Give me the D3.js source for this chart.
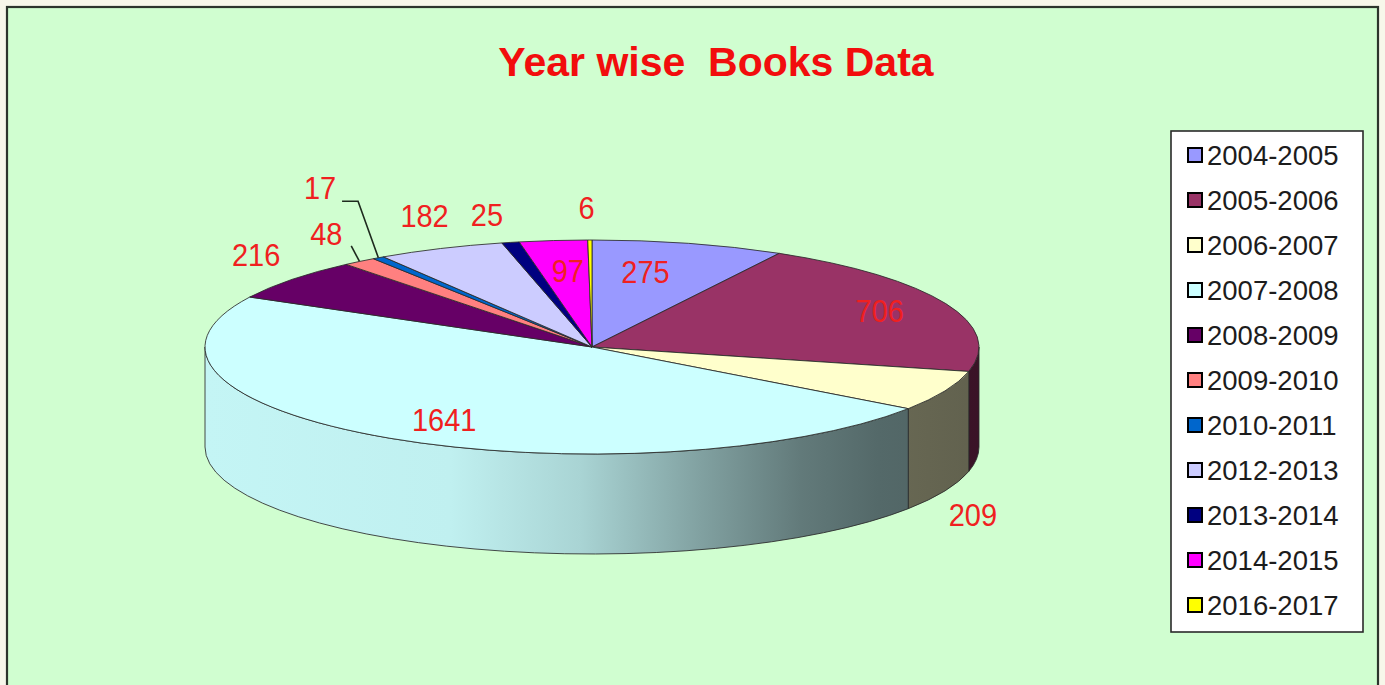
<!DOCTYPE html>
<html>
<head>
<meta charset="utf-8">
<script src="https://cdn.jsdelivr.net/npm/d3@7"></script>
<style>
  html, body { margin: 0; padding: 0; background: #f7f7ea; overflow: hidden; }
  svg { display: block; }
</style>
</head>
<body>
<svg id="chart" width="1385" height="685"></svg>
<script>
// Books added per academic year
const categories = ["2004-2005", "2005-2006", "2006-2007", "2007-2008", "2008-2009", "2009-2010",
                    "2010-2011", "2012-2013", "2013-2014", "2014-2015", "2016-2017"];
const books = [275, 706, 209, 1641, 216, 48, 17, 182, 25, 97, 6];
const sliceColors = ["#9999ff", "#993366", "#ffffcc", "#ccffff", "#660066", "#ff8080",
                     "#0066cc", "#ccccff", "#000080", "#ff00ff", "#ffff00"];
const titleText = "Year wise  Books Data";

// Where each value label sits: radius factor on the ellipse, small angle nudge (deg),
// "base" = measured on the bottom rim, optional leader offsets from the label centre.
const labelPlacement = [
  { r: 0.72, da: -3.4 },
  { r: 0.82, da: -1.0 },
  { r: 1.167, da: 8.3, base: true },
  { r: 0.78, da: -2.2 },
  { r: 1.227, da: 5.8 },
  { r: 1.26, da: 3.9, leader: [[25, 12]] },
  { r: 1.65, da: 8.3, leader: [[22, 14], [38, 14]] },
  { r: 1.30, da: 3.6 },
  { r: 1.27, da: -0.2 },
  { r: 0.713, da: 0.7 },
  { r: 1.30, da: -0.3 }
];

const W = 1385, H = 685;
const cx = 592, cy = 347, rx = 387, ry = 107, depth = 100;
const FONT = "'Liberation Sans', Arial, Helvetica, sans-serif";

const svg = d3.select("#chart");
const defs = svg.append("defs");
const color = d3.scaleOrdinal(categories, sliceColors);

// chart area
svg.append("rect")
  .attr("x", 7).attr("y", 7).attr("width", 1371).attr("height", 700)
  .attr("fill", "#d0fed0").attr("stroke", "#2c352c").attr("stroke-width", 2.2);

// title
svg.append("text")
  .attr("x", 716).attr("y", 76)
  .attr("text-anchor", "middle")
  .style("white-space", "pre")
  .attr("font-family", FONT).attr("font-weight", "bold").attr("font-size", 41)
  .attr("fill", "#f20d0d")
  .text(titleText);

const pie = d3.pie().sort(null).value(d => d.value);
const arcsData = pie(categories.map((c, i) => ({ cat: c, value: books[i], i })));

// projection of a polar point (angle clockwise from 12 o'clock) onto the tilted disc
const P = (a, k = 1, z = 0) => [cx + rx * k * Math.sin(a), cy - ry * k * Math.cos(a) + z];

// side shading: light on the left rim, darkening toward the right
const shade = [[0, 0.96], [0.317, 0.94], [0.485, 0.83], [0.64, 0.63], [0.77, 0.48], [0.87, 0.41], [1, 0.38]];

const walls = svg.append("g");
arcsData.forEach(d => {
  const s = Math.max(d.startAngle, Math.PI / 2);
  const e = Math.min(d.endAngle, 3 * Math.PI / 2);
  if (s >= e) return;
  const id = "wall" + d.data.i;
  const base = d3.rgb(color(d.data.cat));
  const g = defs.append("linearGradient").attr("id", id)
    .attr("gradientUnits", "userSpaceOnUse")
    .attr("x1", cx - rx).attr("x2", cx + rx).attr("y1", 0).attr("y2", 0);
  shade.forEach(([o, f]) => {
    g.append("stop").attr("offset", o)
      .attr("stop-color", d3.rgb(base.r * f, base.g * f, base.b * f).formatHex());
  });
  const t0 = P(s), t1 = P(e), b1 = P(e, 1, depth), b0 = P(s, 1, depth);
  const path = `M${t0}A${rx},${ry} 0 0 1 ${t1}L${b1}A${rx},${ry} 0 0 0 ${b0}Z`;
  walls.append("path")
    .attr("d", path)
    .attr("fill", `url(#${id})`)
    .attr("stroke", "#2a2a2a").attr("stroke-width", 1).attr("stroke-opacity", 0.85)
    .attr("stroke-linejoin", "round");
});

// top faces
const arc = d3.arc().innerRadius(0).outerRadius(rx);
svg.append("g")
  .attr("transform", `translate(${cx},${cy}) scale(1,${ry / rx})`)
  .selectAll("path")
  .data(arcsData)
  .join("path")
  .attr("d", arc)
  .attr("fill", d => color(d.data.cat))
  .attr("stroke", "#2a2a2a").attr("stroke-width", 1).attr("stroke-opacity", 0.85)
  .attr("stroke-linejoin", "round")
  .attr("vector-effect", "non-scaling-stroke");

// value labels and leaders
const labels = svg.append("g");
arcsData.forEach(d => {
  const lp = labelPlacement[d.data.i];
  const mid = (d.startAngle + d.endAngle) / 2;
  const a = mid + lp.da * Math.PI / 180;
  const [lx, ly] = P(a, lp.r, lp.base ? depth : 0);
  if (lp.leader) {
    const pts = lp.leader.map(([ox, oy]) => [lx + ox, ly + oy]);
    pts.push(P(mid, 1));
    labels.append("path")
      .attr("d", d3.line()(pts))
      .attr("fill", "none").attr("stroke", "#1e2a1e").attr("stroke-width", 1.6);
  }
  labels.append("text")
    .attr("transform", `translate(${lx},${ly}) scale(1,1.1)`)
    .attr("text-anchor", "middle").attr("dy", "0.36em")
    .attr("font-family", FONT).attr("font-size", 29)
    .attr("fill", "#f02020")
    .text(d.data.value);
});

// legend
const legend = svg.append("g");
legend.append("rect")
  .attr("x", 1171).attr("y", 131).attr("width", 192).attr("height", 501)
  .attr("fill", "#ffffff").attr("stroke", "#2a2a2a").attr("stroke-width", 1.6);
const rowY = d3.scalePoint().domain(categories).range([155, 605]);
const rows = legend.selectAll("g.row").data(categories).join("g")
  .attr("class", "row")
  .attr("transform", c => `translate(0,${rowY(c)})`);
rows.append("rect")
  .attr("x", 1188).attr("y", -7).attr("width", 14).attr("height", 14)
  .attr("fill", c => color(c)).attr("stroke", "#000").attr("stroke-width", 2);
rows.append("text")
  .attr("x", 1207).attr("dy", "0.36em")
  .attr("font-family", FONT).attr("font-size", 27.5)
  .attr("fill", "#1c1c1c")
  .text(c => c);
</script>
</body>
</html>
